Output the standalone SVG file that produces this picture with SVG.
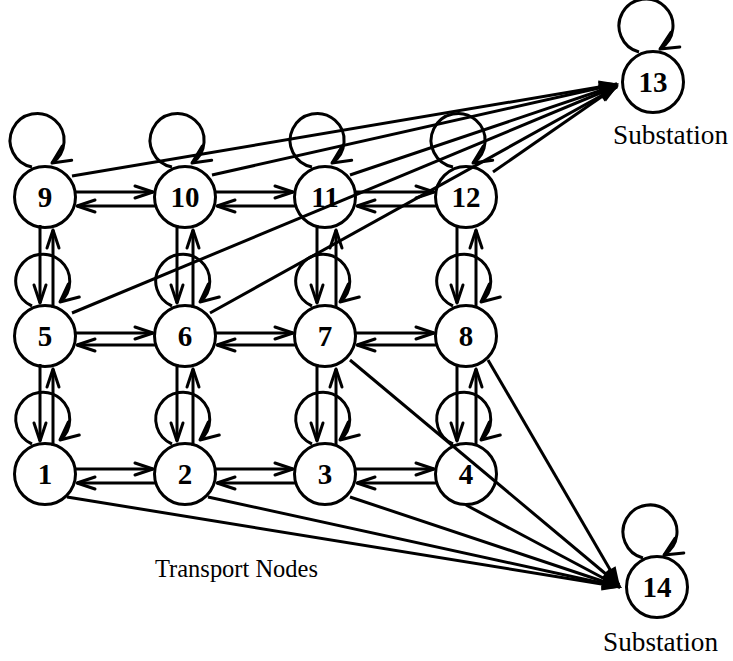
<svg xmlns="http://www.w3.org/2000/svg" width="733" height="661" viewBox="0 0 733 661">
<style>
.node circle{fill:none;stroke:#000;stroke-width:3}
.node text.num{font-family:"Liberation Serif",serif;font-weight:bold;font-size:29px;text-anchor:middle;fill:#000}
text.lbl{font-family:"Liberation Serif",serif;font-weight:normal;text-anchor:start;fill:#000}
#edges path{fill:none;stroke:#000;stroke-width:3}
.a{marker-end:url(#ah)}
.l{marker-end:url(#lh)}
.s{marker-end:url(#bh)}
</style>
<defs>
<marker id="ah" markerUnits="userSpaceOnUse" markerWidth="30" markerHeight="20" refX="0" refY="0" orient="auto" overflow="visible">
<path d="M-18,-6 L0,0 L-18,6" fill="none" stroke="#000" stroke-width="3" stroke-linejoin="round" stroke-linecap="round"/>
</marker>
<marker id="lh" markerUnits="userSpaceOnUse" markerWidth="30" markerHeight="20" refX="0" refY="0" orient="auto" overflow="visible">
<path d="M-18,-8.5 L0,0 L-18,8.5" fill="none" stroke="#000" stroke-width="3" stroke-linejoin="round" stroke-linecap="round"/>
</marker>
<marker id="bh" markerUnits="userSpaceOnUse" markerWidth="30" markerHeight="20" refX="0" refY="0" orient="auto" overflow="visible">
<path d="M2,0 L-18,-6.5 L-18,6.5 z" fill="#000"/>
</marker>
</defs>
<g id="edges">
<path class="a" d="M74,192 L153,192"/>
<path class="a" d="M156,206 L77,206"/>
<path class="a" d="M214,192 L293,192"/>
<path class="a" d="M296,206 L217,206"/>
<path class="a" d="M354,192 L434,192"/>
<path class="a" d="M437,206 L357,206"/>
<path class="a" d="M74,333 L153,333"/>
<path class="a" d="M156,345 L77,345"/>
<path class="a" d="M214,333 L293,333"/>
<path class="a" d="M296,345 L217,345"/>
<path class="a" d="M354,333 L434,333"/>
<path class="a" d="M437,345 L357,345"/>
<path class="a" d="M74,469 L153,469"/>
<path class="a" d="M156,483 L77,483"/>
<path class="a" d="M214,469 L293,469"/>
<path class="a" d="M296,483 L217,483"/>
<path class="a" d="M354,469 L434,469"/>
<path class="a" d="M437,483 L357,483"/>
<path class="a" d="M40,225 L40,303"/>
<path class="a" d="M53,308 L53,230"/>
<path class="a" d="M177,225 L177,303"/>
<path class="a" d="M193,308 L193,230"/>
<path class="a" d="M317,225 L317,303"/>
<path class="a" d="M336,308 L336,230"/>
<path class="a" d="M457,225 L457,303"/>
<path class="a" d="M476,308 L476,230"/>
<path class="a" d="M40,364 L40,441"/>
<path class="a" d="M53,446 L53,369"/>
<path class="a" d="M177,364 L177,441"/>
<path class="a" d="M193,446 L193,369"/>
<path class="a" d="M317,364 L317,441"/>
<path class="a" d="M336,446 L336,369"/>
<path class="a" d="M457,364 L457,441"/>
<path class="a" d="M476,446 L476,369"/>
<path class="l" d="M32,167 A27,27 0 1 1 52,163"/>
<path class="l" d="M172,167 A27,27 0 1 1 192,163"/>
<path class="l" d="M312,167 A27,27 0 1 1 332,163"/>
<path class="l" d="M453,167 A27,27 0 1 1 473,163"/>
<path class="l" d="M32,306 A27,27 0 1 1 60,302"/>
<path class="l" d="M172,306 A27,27 0 1 1 200,302"/>
<path class="l" d="M312,306 A27,27 0 1 1 340,302"/>
<path class="l" d="M453,306 A27,27 0 1 1 481,302"/>
<path class="l" d="M32,444 A27,27 0 1 1 60,440"/>
<path class="l" d="M172,444 A27,27 0 1 1 200,440"/>
<path class="l" d="M312,444 A27,27 0 1 1 340,440"/>
<path class="l" d="M453,444 A27,27 0 1 1 481,440"/>
<path class="l" d="M639,52 A27,27 0 1 1 660,49"/>
<path class="l" d="M643,558 A27,27 0 1 1 664,555"/>
<path class="s" d="M72,176 L617,84"/>
<path class="s" d="M212,175 L617,84"/>
<path class="s" d="M350,175 L617,85"/>
<path class="s" d="M493,172 L617,86"/>
<path class="s" d="M72,313 L617,86"/>
<path class="s" d="M210,313 L617,87"/>
<path class="s" d="M67,497 L620,587"/>
<path class="s" d="M208,497 L620,587"/>
<path class="s" d="M350,497 L620,587"/>
<path class="s" d="M466,505 L620,587"/>
<path class="s" d="M350,360 L619,585"/>
<path class="s" d="M488,360 L619,585"/>
</g>
<g id="n9" class="node"><circle cx="45" cy="197" r="30.5"/><text class="num" x="45" y="207">9</text></g>
<g id="n10" class="node"><circle cx="185" cy="197" r="30.5"/><text class="num" x="185" y="207">10</text></g>
<g id="n11" class="node"><circle cx="325" cy="197" r="30.5"/><text class="num" x="325" y="207">11</text></g>
<g id="n12" class="node"><circle cx="466" cy="197" r="30.5"/><text class="num" x="466" y="207">12</text></g>
<g id="n5" class="node"><circle cx="45" cy="336" r="30.5"/><text class="num" x="45" y="346">5</text></g>
<g id="n6" class="node"><circle cx="185" cy="336" r="30.5"/><text class="num" x="185" y="346">6</text></g>
<g id="n7" class="node"><circle cx="325" cy="336" r="30.5"/><text class="num" x="325" y="346">7</text></g>
<g id="n8" class="node"><circle cx="466" cy="336" r="30.5"/><text class="num" x="466" y="346">8</text></g>
<g id="n1" class="node"><circle cx="45" cy="474" r="30.5"/><text class="num" x="45" y="484">1</text></g>
<g id="n2" class="node"><circle cx="185" cy="474" r="30.5"/><text class="num" x="185" y="484">2</text></g>
<g id="n3" class="node"><circle cx="325" cy="474" r="30.5"/><text class="num" x="325" y="484">3</text></g>
<g id="n4" class="node"><circle cx="466" cy="474" r="30.5"/><text class="num" x="466" y="484">4</text></g>
<g id="n13" class="node"><circle cx="653" cy="82" r="30.5"/><text class="num" x="653" y="92">13</text><text class="lbl" x="613" y="144" font-size="28" textLength="115" lengthAdjust="spacingAndGlyphs">Substation</text></g>
<g id="n14" class="node"><circle cx="657" cy="587" r="30.5"/><text class="num" x="657" y="597">14</text><text class="lbl" x="603" y="651" font-size="28" textLength="115" lengthAdjust="spacingAndGlyphs">Substation</text></g>
<text id="transport" class="lbl" x="155" y="577" font-size="26" textLength="163" lengthAdjust="spacingAndGlyphs">Transport Nodes</text>
</svg>
